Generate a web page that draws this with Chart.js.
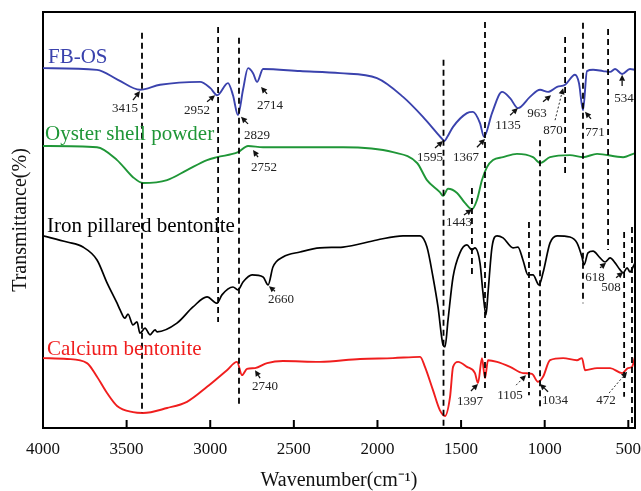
<!DOCTYPE html>
<html><head><meta charset="utf-8">
<script src="https://cdn.jsdelivr.net/npm/chart.js@4"></script>
<style>html,body{margin:0;padding:0;background:#fff}#wrap{width:641px;height:491px}</style>
</head><body><div id="wrap"><canvas id="c" width="641" height="491"></canvas></div>
<script>
// ---------- data ----------
const xTicks = [4000, 3500, 3000, 2500, 2000, 1500, 1000, 500];
const seriesNames = ['FB-OS', 'Oyster shell powder', 'Iron pillared bentonite', 'Calcium bentonite'];

const fbosWn = [4000,3677,3552,3420,3300,3061,2999,2959,2894,2864,2834,2804,2774,2744,2720,2684,2463,2224,2003,1847,1728,1644,1616,1600,1582,1548,1465,1429,1387,1363,1315,1255,1207,1160,1088,1028,980,926,878,819,795,771,747,711,651,609,579,537,490,460];
const fbosT  = [86.5,86.1,83.7,81.3,82.5,83.2,81.7,80.0,82.9,80.0,75.2,81.3,86.5,85.3,83.2,86.3,85.8,85.3,84.1,79.6,74.8,70.9,69.6,69.0,70.0,72.4,75.7,76.0,73.3,70.0,75.7,80.8,79.3,76.9,79.6,81.3,80.8,82.0,82.5,84.9,82.9,76.4,85.8,86.1,85.8,85.6,86.3,85.1,86.3,86.1];

const oysterWn = [4000,3677,3557,3462,3402,3258,3139,3019,2959,2834,2774,2684,2206,1907,1763,1704,1627,1608,1578,1524,1477,1435,1405,1375,1345,1309,1249,1166,1070,1028,968,849,771,687,531,460];
const oysterT  = [67.8,67.5,64.4,60.3,58.9,59.6,62.0,64.4,65.1,66.3,67.8,67.5,67.5,66.3,63.7,59.6,56.7,55.8,57.5,56.5,54.1,52.6,54.8,59.6,62.7,64.4,65.1,65.9,65.1,63.7,65.1,65.6,65.1,65.9,65.1,66.1];

const ironWn = [4000,3856,3761,3677,3617,3557,3539,3510,3492,3462,3438,3420,3390,3360,3330,3318,3199,3103,3019,2959,2930,2864,2834,2804,2750,2684,2654,2625,2565,2463,2344,2206,2003,1847,1745,1704,1668,1638,1608,1596,1578,1548,1507,1465,1435,1417,1387,1369,1351,1339,1315,1285,1249,1189,1160,1130,1100,1070,1034,1010,968,926,849,807,777,765,741,711,669,639,609,579,549,531,507,490,472,460];
const ironT  = [46.2,44.7,43.5,40.4,34.9,30.0,28.4,26.4,27.4,24.8,25.5,22.8,24.0,22.4,23.6,23.1,25.2,29.1,31.5,30.0,32.0,33.9,33.2,35.1,36.8,36.3,34.4,38.7,41.1,42.3,43.3,43.5,45.2,46.2,46.2,43.5,36.3,29.1,20.0,19.5,26.0,36.3,42.1,44.0,42.8,43.3,39.7,32.5,27.2,32.5,43.5,46.2,45.7,43.3,43.5,40.4,36.8,36.8,34.4,37.3,44.5,46.2,45.9,44.5,41.1,39.2,42.1,42.5,40.9,39.9,40.9,39.7,38.0,37.3,38.5,37.5,38.7,39.7];

const caWn = [4000,3856,3737,3677,3617,3557,3462,3402,3258,3139,3019,2900,2840,2810,2780,2732,2660,2565,2344,2104,1907,1745,1716,1668,1627,1596,1566,1548,1518,1465,1417,1399,1375,1357,1339,1285,1207,1130,1076,1040,1010,968,890,807,777,759,687,609,537,502,478,460];
const caT  = [16.8,16.6,15.6,12.3,8.4,5.3,3.8,3.6,4.8,6.3,9.9,13.9,15.9,12.7,14.2,14.4,15.6,16.1,15.9,16.6,16.8,17.1,14.7,9.1,4.3,2.9,7.5,14.7,15.9,14.7,13.2,10.8,16.8,12.0,16.3,15.9,14.7,13.2,13.0,11.1,12.3,16.3,16.8,16.3,16.8,13.9,14.4,14.4,13.2,14.4,14.7,17.1];

// dashed reference lines (wavenumber, top and bottom of the dashed segment)
const peakLineWn     = [3408,2953,2828,1605,1357,878,771,621,1028,1435,1094,525,478];
const peakLineTop    = [95.0,96.4,93.8,88.5,97.6,94.0,97.4,95.9,69.2,57.7,49.5,47.1,48.3];
const peakLineBottom = [3.6,25.5,5.5,0,9.6,61.3,30.0,42.8,5.0,36.3,7.9,7.5,0];

// peak labels
const peakLabels = ['3415','2952','2714','2829','2752','1595','1367','1135','963','870','771','534','1443','2660','618','508','2740','1397','1105','1034','472'];

// ---------- placement / style ----------
const labelPlace = [
 [3510,76.9, 3462,78.8, 3420,81.0, 0],
 [3079,76.2, 3019,78.4, 2971,80.0, 0],
 [2643,77.6, 2660,80.3, 2696,82.0, 0],
 [2720,70.4, 2774,73.1, 2816,74.8, 0],
 [2678,62.5, 2714,65.1, 2744,66.8, 0],
 [1686,65.1, 1656,67.3, 1608,69.0, 0],
 [1470,65.1, 1405,67.5, 1357,69.5, 0],
 [1219,72.6, 1207,75.2, 1160,76.9, 0],
 [1046,75.7, 1010,78.4, 962,80.0, 0],
 [950,71.4, 938,74.0, 890,81.7, 1],
 [699,70.9, 723,74.3, 759,76.0, 0],
 [526,79.1, 537,82.2, 537,84.9, 0],
 [1512,49.5, 1483,51.2, 1435,52.6, 0],
 [2577,30.8, 2613,32.9, 2649,34.1, 0],
 [699,36.1, 669,38.5, 633,39.7, 0],
 [603,33.7, 573,36.1, 531,37.5, 0],
 [2672,9.9, 2702,12.0, 2732,13.9, 0],
 [1447,6.3, 1441,8.9, 1399,10.6, 0],
 [1207,7.9, 1171,10.3, 1112,12.7, 1],
 [938,6.5, 980,8.7, 1028,10.6, 0],
 [633,6.5, 615,8.4, 507,13.5, 1]
];
const namePlace = [[3970,87.7],[3988,69.2],[3976,47.1],[3976,17.5]];
const colors = ['#3a42ad', '#1f9637', '#000000', '#f01e1e'];
const FONT = '"Liberation Serif", "Times New Roman", serif';

const pts = (w, t) => w.map((x, i) => ({x: x, y: t[i]}));
const seriesData = [[fbosWn, fbosT], [oysterWn, oysterT], [ironWn, ironT], [caWn, caT]];

const datasets = [];
peakLineWn.forEach((w, i) => {
  datasets.push({
    data: [{x: w, y: peakLineTop[i]}, {x: w, y: peakLineBottom[i]}],
    borderColor: '#000', borderWidth: 1.8, borderDash: [6, 4], pointRadius: 0, tension: 0
  });
});
seriesData.forEach((s, i) => {
  datasets.push({
    label: seriesNames[i], data: pts(s[0], s[1]),
    borderColor: colors[i], borderWidth: i === 2 ? 1.7 : 1.9, pointRadius: 0,
    cubicInterpolationMode: 'monotone'
  });
});

const decor = {
  id: 'decor',
  afterDatasetsDraw(chart) {
    const ctx = chart.ctx, ca = chart.chartArea;
    const xs = chart.scales.x, ys = chart.scales.y;
    ctx.save();
    ctx.strokeStyle = '#000'; ctx.lineWidth = 2;
    ctx.beginPath();
    ctx.moveTo(ca.left - 1, ca.top); ctx.lineTo(ca.right, ca.top); ctx.lineTo(ca.right, ca.bottom + 1);
    ctx.stroke();
    xTicks.forEach(v => {
      const px = xs.getPixelForValue(v);
      ctx.beginPath(); ctx.moveTo(px, ca.bottom); ctx.lineTo(px, ca.bottom - 8); ctx.stroke();
    });
    ctx.font = '21px ' + FONT; ctx.textAlign = 'left'; ctx.textBaseline = 'alphabetic';
    seriesNames.forEach((n, i) => {
      ctx.fillStyle = colors[i];
      ctx.fillText(n, xs.getPixelForValue(namePlace[i][0]), ys.getPixelForValue(namePlace[i][1]));
    });
    ctx.font = '13px ' + FONT; ctx.textAlign = 'center'; ctx.textBaseline = 'middle';
    peakLabels.forEach((t, i) => {
      const p = labelPlace[i];
      ctx.fillStyle = '#222';
      ctx.fillText(t, xs.getPixelForValue(p[0]), ys.getPixelForValue(p[1]));
      const x1 = xs.getPixelForValue(p[2]), y1 = ys.getPixelForValue(p[3]);
      const x2 = xs.getPixelForValue(p[4]), y2 = ys.getPixelForValue(p[5]);
      const ang = Math.atan2(y2 - y1, x2 - x1);
      const hl = 6, hw = 3;
      const bx = x2 - hl * Math.cos(ang), by = y2 - hl * Math.sin(ang);
      ctx.save();
      ctx.strokeStyle = '#111';
      if (p[6]) { ctx.setLineDash([2, 2]); ctx.lineWidth = 0.9; } else { ctx.lineWidth = 1.3; }
      ctx.beginPath(); ctx.moveTo(x1, y1); ctx.lineTo(bx, by); ctx.stroke();
      ctx.restore();
      ctx.fillStyle = '#111';
      ctx.beginPath();
      ctx.moveTo(x2, y2);
      ctx.lineTo(bx + hw * Math.sin(ang), by - hw * Math.cos(ang));
      ctx.lineTo(bx - hw * Math.sin(ang), by + hw * Math.cos(ang));
      ctx.closePath(); ctx.fill();
    });
    ctx.restore();
  }
};

new Chart(document.getElementById('c'), {
  type: 'line',
  data: {datasets: datasets},
  plugins: [decor],
  options: {
    responsive: false, animation: false, devicePixelRatio: 1,
    layout: {padding: {top: 12, right: 6, left: 0, bottom: 0}},
    plugins: {legend: {display: false}, tooltip: {enabled: false}},
    elements: {point: {radius: 0}},
    scales: {
      x: {
        type: 'linear', reverse: true, min: 460, max: 4000,
        afterBuildTicks: s => { s.ticks = xTicks.map(v => ({value: v})); },
        afterFit: s => { s.height = 63; s.paddingLeft = 0; s.paddingRight = 0; },
        grid: {display: false, drawTicks: false},
        border: {display: true, color: '#000', width: 2},
        ticks: {color: '#111', padding: 11, font: {family: FONT, size: 17}, maxRotation: 0, autoSkip: false,
                callback: v => String(v)},
        title: {display: true, text: 'Wavenumber(cm\u207B\u00B9)', color: '#111', padding: 0,
                font: {family: FONT, size: 20, lineHeight: 1}}
      },
      y: {
        min: 0, max: 100,
        afterFit: s => { s.width = 43; s.paddingTop = 0; s.paddingBottom = 0; },
        grid: {display: false, drawTicks: false},
        border: {display: true, color: '#000', width: 2},
        ticks: {display: false},
        title: {display: true, text: 'Transmittance(%)', color: '#111', padding: {top: 11, bottom: 0},
                font: {family: FONT, size: 20, lineHeight: 1}}
      }
    }
  }
});
</script></body></html>
